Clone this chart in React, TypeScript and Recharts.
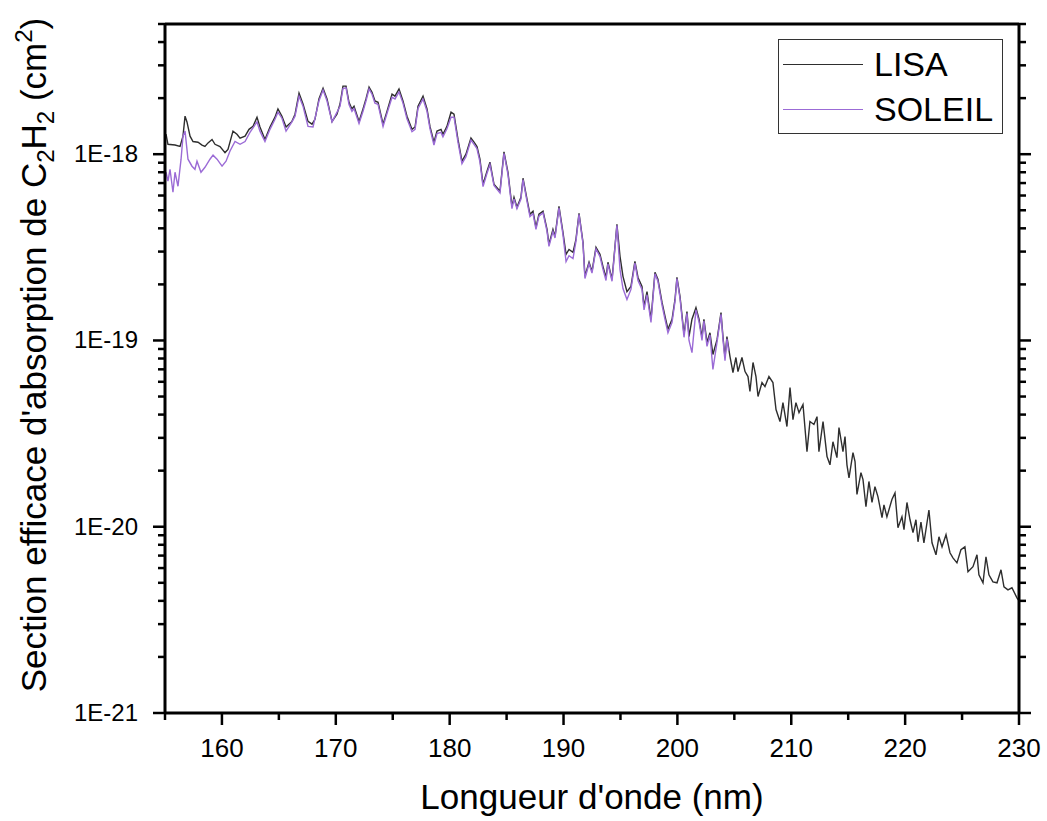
import { LineChart, Line, XAxis, YAxis, Legend } from 'recharts';

const FONT = '"Liberation Sans", Arial, Helvetica, sans-serif';

// wavelength ticks (nm)
const xMajor = [160, 170, 180, 190, 200, 210, 220, 230];
const xTicks = [155, 160, 165, 170, 175, 180, 185, 190, 195, 200, 205, 210, 215, 220, 225, 230];

// cross-section ticks (log)
const yMajor = [1e-21, 1e-20, 1e-19, 1e-18];
const yMajorLabels = ['1E-21', '1E-20', '1E-19', '1E-18'];
const yTicks = [
  1e-21, 2e-21, 3e-21, 4e-21, 5e-21, 6e-21, 7e-21, 8e-21, 9e-21,
  1e-20, 2e-20, 3e-20, 4e-20, 5e-20, 6e-20, 7e-20, 8e-20, 9e-20,
  1e-19, 2e-19, 3e-19, 4e-19, 5e-19, 6e-19, 7e-19, 8e-19, 9e-19,
  1e-18, 2e-18, 3e-18, 4e-18, 5e-18,
];

// LISA spectrum
const lisaNm = [
  155.09, 155.26, 155.88, 156.32, 156.58, 156.76, 156.93, 157.2, 157.46, 157.9,
  158.25, 158.51, 158.78, 159.13, 159.39, 159.83, 160.27, 160.53, 160.97, 161.32,
  161.59, 162.03, 162.38, 162.73, 163.08, 163.34, 163.78, 164.22, 164.66, 164.92,
  165.27, 165.63, 166.15, 166.42, 166.77, 167.12, 167.56, 167.91, 168.17, 168.52,
  168.88, 169.23, 169.67, 170.1, 170.37, 170.63, 170.9, 171.16, 171.42, 171.6,
  172.04, 172.39, 172.65, 172.92, 173.18, 173.44, 173.71, 174.15, 174.5, 174.94,
  175.2, 175.55, 175.9, 176.25, 176.69, 176.96, 177.22, 177.66, 178.01, 178.27,
  178.62, 178.89, 179.24, 179.41, 179.76, 180.12, 180.38, 180.73, 181.08, 181.43,
  181.87, 182.14, 182.4, 182.66, 182.93, 183.28, 183.54, 183.89, 184.42, 184.77,
  185.12, 185.47, 185.65, 185.91, 186.26, 186.44, 186.79, 187.05, 187.32, 187.58,
  187.84, 188.2, 188.55, 188.72, 189.07, 189.25, 189.6, 189.95, 190.22, 190.48,
  190.83, 191.09, 191.36, 191.71, 191.88, 192.24, 192.5, 192.85, 193.2, 193.46,
  193.73, 193.9, 194.26, 194.69, 194.96, 195.22, 195.57, 195.92, 196.27, 196.54,
  196.89, 197.07, 197.33, 197.68, 198.03, 198.29, 198.65, 198.91, 199.17, 199.53,
  199.79, 199.96, 200.23, 200.58, 200.84, 201.02, 201.28, 201.63, 201.9, 202.16,
  202.33, 202.6, 202.86, 203.12, 203.48, 203.83, 204.0, 204.18, 204.35, 204.62,
  204.88, 205.14, 205.32, 205.67, 205.94, 206.2, 206.37, 206.64, 206.9, 207.08,
  207.43, 207.69, 208.04, 208.39, 208.66, 209.01, 209.27, 209.62, 209.89, 210.15,
  210.41, 210.68, 211.03, 211.38, 211.64, 211.99, 212.26, 212.43, 212.79, 213.14,
  213.4, 213.66, 214.01, 214.19, 214.54, 214.72, 214.89, 215.07, 215.42, 215.6,
  215.77, 216.12, 216.3, 216.56, 216.82, 217.09, 217.35, 217.61, 217.97, 218.14,
  218.4, 218.84, 219.11, 219.37, 219.72, 219.9, 220.16, 220.43, 220.69, 220.95,
  221.13, 221.39, 221.65, 222.09, 222.36, 222.71, 222.97, 223.24, 223.59, 223.94,
  224.2, 224.55, 224.9, 225.25, 225.52, 225.96, 226.31, 226.48, 226.84, 227.1,
  227.36, 227.71, 228.07, 228.42, 228.68, 229.03, 229.38, 229.82, 230.0,
];
const lisaVal = [
  1.28e-18, 1.13e-18, 1.12e-18, 1.1e-18, 1.25e-18, 1.6e-18, 1.49e-18, 1.25e-18, 1.17e-18, 1.16e-18,
  1.12e-18, 1.1e-18, 1.15e-18, 1.2e-18, 1.13e-18, 1.1e-18, 1.02e-18, 1.06e-18, 1.33e-18, 1.28e-18,
  1.22e-18, 1.25e-18, 1.36e-18, 1.41e-18, 1.58e-18, 1.4e-18, 1.2e-18, 1.4e-18, 1.58e-18, 1.75e-18,
  1.6e-18, 1.4e-18, 1.5e-18, 1.64e-18, 2.13e-18, 1.86e-18, 1.5e-18, 1.45e-18, 1.54e-18, 1.98e-18,
  2.26e-18, 1.98e-18, 1.5e-18, 1.64e-18, 1.86e-18, 2.32e-18, 2.32e-18, 1.9e-18, 1.75e-18, 1.81e-18,
  1.5e-18, 1.75e-18, 1.98e-18, 2.29e-18, 2.15e-18, 1.93e-18, 1.9e-18, 1.45e-18, 1.7e-18, 2.1e-18,
  2.05e-18, 2.24e-18, 1.93e-18, 1.6e-18, 1.36e-18, 1.4e-18, 1.81e-18, 2.05e-18, 1.75e-18, 1.41e-18,
  1.16e-18, 1.33e-18, 1.36e-18, 1.28e-18, 1.41e-18, 1.68e-18, 1.64e-18, 1.2e-18, 9.17e-19, 1.0e-18,
  1.22e-18, 1.16e-18, 1.1e-18, 9.4e-19, 6.9e-19, 8.1e-19, 9.06e-19, 6.9e-19, 6.33e-19, 1.03e-18,
  8.0e-19, 5.25e-19, 5.87e-19, 5.19e-19, 5.87e-19, 7.43e-19, 5.73e-19, 4.76e-19, 4.94e-19, 4.05e-19,
  4.76e-19, 4.94e-19, 3.95e-19, 3.28e-19, 3.95e-19, 3.62e-19, 5.25e-19, 3.81e-19, 2.9e-19, 3.08e-19,
  2.97e-19, 3.49e-19, 4.82e-19, 3.36e-19, 2.21e-19, 2.63e-19, 2.35e-19, 3.16e-19, 2.9e-19, 2.5e-19,
  2.18e-19, 2.63e-19, 2.13e-19, 4.2e-19, 2.83e-19, 2.21e-19, 1.83e-19, 1.95e-19, 2.66e-19, 2.18e-19,
  1.95e-19, 1.52e-19, 1.83e-19, 1.3e-19, 2.32e-19, 2.13e-19, 1.6e-19, 1.35e-19, 1.15e-19, 1.3e-19,
  1.66e-19, 2.18e-19, 1.72e-19, 1.08e-19, 1.43e-19, 1.05e-19, 1.3e-19, 1.5e-19, 1.3e-19, 1.04e-19,
  1.3e-19, 9.76e-20, 1.1e-19, 8.41e-20, 1.01e-19, 1.41e-19, 1.05e-19, 8.1e-20, 1.05e-19, 8.2e-20,
  6.73e-20, 8.1e-20, 6.81e-20, 8.1e-20, 6.81e-20, 6.4e-20, 5.32e-20, 7.62e-20, 6.4e-20, 5.0e-20,
  5.94e-20, 5.66e-20, 6.4e-20, 5.94e-20, 4.26e-20, 3.67e-20, 4.64e-20, 3.45e-20, 5.59e-20, 3.76e-20,
  4.64e-20, 4.1e-20, 4.53e-20, 2.53e-20, 3.67e-20, 3.54e-20, 3.9e-20, 2.53e-20, 3.67e-20, 2.38e-20,
  2.15e-20, 2.86e-20, 2.35e-20, 3.41e-20, 2.53e-20, 3.05e-20, 2.15e-20, 1.83e-20, 2.5e-20, 2.24e-20,
  1.49e-20, 1.95e-20, 1.79e-20, 1.28e-20, 1.75e-20, 1.35e-20, 1.64e-20, 1.45e-20, 1.12e-20, 1.31e-20,
  1.13e-20, 1.4e-20, 1.52e-20, 9.88e-21, 1.13e-20, 9.64e-21, 1.35e-20, 1.09e-20, 9.29e-21, 1.09e-20,
  8.3e-21, 1.06e-20, 8.2e-21, 1.23e-20, 8.2e-21, 7.07e-21, 8.83e-21, 7.8e-21, 9.06e-21, 7.25e-21,
  6.81e-21, 6.4e-21, 7.52e-21, 7.8e-21, 5.73e-21, 6.1e-21, 7.07e-21, 5.52e-21, 5.0e-21, 6.9e-21,
  5.52e-21, 5.06e-21, 5.0e-21, 5.87e-21, 4.76e-21, 4.58e-21, 4.7e-21, 4.15e-21, 4.0e-21,
];

// SOLEIL spectrum
const soleilNm = [
  155.09, 155.26, 155.44, 155.7, 155.88, 156.14, 156.41, 156.58, 156.76, 157.02,
  157.37, 157.63, 157.81, 158.16, 158.51, 158.95, 159.22, 159.57, 160.01, 160.36,
  160.71, 161.15, 161.59, 162.03, 162.46, 163.08, 163.34, 163.78, 164.22, 164.66,
  164.92, 165.27, 165.63, 166.15, 166.42, 166.77, 167.12, 167.56, 168.0, 168.52,
  168.88, 169.23, 169.67, 170.37, 170.63, 170.9, 171.16, 171.42, 171.6, 172.04,
  172.39, 172.65, 172.92, 173.18, 173.44, 173.71, 174.15, 174.5, 174.94, 175.2,
  175.55, 175.9, 176.25, 176.69, 176.96, 177.22, 177.66, 178.01, 178.27, 178.62,
  178.89, 179.24, 179.41, 179.76, 180.12, 180.38, 180.73, 181.08, 181.43, 181.87,
  182.14, 182.4, 182.66, 182.93, 183.28, 183.54, 183.89, 184.42, 184.77, 185.12,
  185.47, 185.65, 185.91, 186.26, 186.44, 186.79, 187.05, 187.32, 187.58, 187.84,
  188.2, 188.55, 188.72, 189.07, 189.25, 189.6, 189.95, 190.22, 190.48, 190.83,
  191.09, 191.36, 191.71, 191.88, 192.24, 192.5, 192.85, 193.2, 193.46, 193.73,
  193.9, 194.26, 194.69, 194.96, 195.22, 195.57, 195.92, 196.27, 196.54, 196.89,
  197.07, 197.33, 197.68, 198.03, 198.29, 198.65, 198.91, 199.17, 199.53, 199.79,
  199.96, 200.23, 200.58, 200.84, 201.02, 201.28, 201.63, 201.9, 202.16, 202.33,
  202.6, 202.86, 203.12, 203.48, 203.83, 204.0, 204.18, 204.35, 204.5,
];
const soleilVal = [
  8.0e-19, 7.16e-19, 8.3e-19, 6.25e-19, 8.0e-19, 6.73e-19, 9.4e-19, 1.25e-18, 1.33e-18, 9.4e-19,
  8.62e-19, 8.3e-19, 9.17e-19, 8.0e-19, 8.51e-19, 9.4e-19, 9.88e-19, 9.4e-19, 8.62e-19, 9.17e-19,
  1.04e-18, 1.17e-18, 1.13e-18, 1.17e-18, 1.31e-18, 1.49e-18, 1.33e-18, 1.17e-18, 1.36e-18, 1.54e-18,
  1.68e-18, 1.56e-18, 1.33e-18, 1.49e-18, 1.6e-18, 2.05e-18, 1.81e-18, 1.41e-18, 1.4e-18, 1.93e-18,
  2.21e-18, 1.93e-18, 1.49e-18, 1.81e-18, 2.25e-18, 2.27e-18, 1.85e-18, 1.7e-18, 1.76e-18, 1.46e-18,
  1.7e-18, 1.93e-18, 2.24e-18, 2.1e-18, 1.88e-18, 1.85e-18, 1.41e-18, 1.66e-18, 2.02e-18, 1.98e-18,
  2.16e-18, 1.88e-18, 1.55e-18, 1.32e-18, 1.36e-18, 1.76e-18, 1.98e-18, 1.7e-18, 1.37e-18, 1.12e-18,
  1.29e-18, 1.31e-18, 1.24e-18, 1.37e-18, 1.58e-18, 1.58e-18, 1.16e-18, 8.9e-19, 9.7e-19, 1.19e-18,
  1.13e-18, 1.07e-18, 9.1e-19, 6.7e-19, 7.9e-19, 8.8e-19, 6.8e-19, 6.2e-19, 1.01e-18, 7.8e-19,
  5.1e-19, 5.75e-19, 5.1e-19, 5.75e-19, 7.3e-19, 5.6e-19, 4.62e-19, 4.8e-19, 3.95e-19, 4.65e-19,
  4.85e-19, 3.85e-19, 3.2e-19, 3.85e-19, 3.55e-19, 5.15e-19, 3.7e-19, 2.65e-19, 2.85e-19, 2.75e-19,
  3.4e-19, 4.75e-19, 3.3e-19, 2.15e-19, 2.58e-19, 2.3e-19, 3.1e-19, 2.82e-19, 2.42e-19, 2.1e-19,
  2.58e-19, 2.08e-19, 4.15e-19, 2.4e-19, 1.9e-19, 1.66e-19, 1.88e-19, 2.6e-19, 2.1e-19, 1.88e-19,
  1.46e-19, 1.76e-19, 1.25e-19, 2.28e-19, 2.08e-19, 1.55e-19, 1.3e-19, 1.1e-19, 1.25e-19, 1.62e-19,
  2.15e-19, 1.68e-19, 1.04e-19, 1.4e-19, 1.0e-19, 8.6e-20, 1.46e-19, 1.26e-19, 1.0e-19, 1.27e-19,
  9.3e-20, 1.07e-19, 7.0e-20, 9.8e-20, 1.38e-19, 1.02e-19, 7.8e-20, 1.02e-19, 8.8e-20,
];

const lisaData = lisaNm.map((nm, i) => ({ nm, v: lisaVal[i] }));
const soleilData = soleilNm.map((nm, i) => ({ nm, v: soleilVal[i] }));

const AXIS = { stroke: '#000', strokeWidth: 3 };

const BottomTick = (props: any) => {
  const { x, y, payload } = props;
  const major = xMajor.includes(payload.value);
  return (
    <g>
      <line x1={x} x2={x} y1={y} y2={y + (major ? 12 : 7)} stroke="#000" strokeWidth={2.5} />
      {major && (
        <text x={x} y={y + 44} textAnchor="middle" fontSize={26} fontFamily={FONT} fill="#000">
          {payload.value}
        </text>
      )}
    </g>
  );
};

const TopTick = (props: any) => {
  const { x, y, payload } = props;
  const major = xMajor.includes(payload.value);
  return <line x1={x} x2={x} y1={y} y2={y - (major ? 12 : 7)} stroke="#000" strokeWidth={2.5} />;
};

const LeftTick = (props: any) => {
  const { x, y, payload } = props;
  const idx = yMajor.indexOf(payload.value);
  return (
    <g>
      <line x1={x} x2={x - (idx >= 0 ? 12 : 7)} y1={y} y2={y} stroke="#000" strokeWidth={2.5} />
      {idx >= 0 && (
        <text x={x - 27} y={y + 8} textAnchor="end" fontSize={24} fontFamily={FONT} fill="#000">
          {yMajorLabels[idx]}
        </text>
      )}
    </g>
  );
};

const RightTick = (props: any) => {
  const { x, y, payload } = props;
  const major = yMajor.includes(payload.value);
  return <line x1={x} x2={x + (major ? 12 : 7)} y1={y} y2={y} stroke="#000" strokeWidth={2.5} />;
};

const XTitle = () => (
  <text x={592} y={809} textAnchor="middle" fontSize={35} fontFamily={FONT} fill="#000">
    Longueur d'onde (nm)
  </text>
);

const YTitle = () => (
  <text
    transform="translate(46,355) rotate(-90)"
    textAnchor="middle"
    fontSize={35}
    fontFamily={FONT}
    fill="#000"
  >
    {"Section efficace d'absorption de C"}
    <tspan fontSize={24} dy={8}>2</tspan>
    <tspan dy={-8}>H</tspan>
    <tspan fontSize={24} dy={8}>2</tspan>
    <tspan dy={-8}>{' (cm'}</tspan>
    <tspan fontSize={24} dy={-14}>2</tspan>
    <tspan dy={14}>)</tspan>
  </text>
);

const LegendBox = (props: any) => {
  const { payload = [] } = props;
  return (
    <div
      style={{
        width: 225,
        height: 95,
        boxSizing: 'border-box',
        border: '1.5px solid #333',
        background: '#fff',
        paddingTop: 2,
        fontFamily: FONT,
      }}
    >
      {payload.map((item: any) => (
        <div key={item.value} style={{ display: 'flex', alignItems: 'center', height: 45 }}>
          <div style={{ width: 80, marginLeft: 4, borderTop: `1.5px solid ${item.color}` }} />
          <span style={{ marginLeft: 11, fontSize: 34, color: '#000', lineHeight: '45px' }}>{item.value}</span>
        </div>
      ))}
    </div>
  );
};

export default function App() {
  return (
    <div style={{ position: 'absolute', left: 0, top: 0, background: '#fff' }}>
      <LineChart width={1047} height={821} margin={{ top: 0, right: 0, bottom: 0, left: 0 }}>
        <XAxis
          dataKey="nm"
          type="number"
          domain={[155, 230]}
          ticks={xTicks}
          interval={0}
          allowDataOverflow
          height={108}
          axisLine={AXIS}
          tickLine={false}
          tickSize={0}
          tickMargin={0}
          tick={<BottomTick />}
          label={XTitle}
        />
        <XAxis
          xAxisId="top"
          orientation="top"
          type="number"
          domain={[155, 230]}
          ticks={xTicks}
          interval={0}
          allowDataOverflow
          height={24}
          axisLine={AXIS}
          tickLine={false}
          tickSize={0}
          tickMargin={0}
          tick={<TopTick />}
        />
        <YAxis
          scale="log"
          type="number"
          domain={[1e-21, 5e-18]}
          ticks={yTicks}
          interval={0}
          allowDataOverflow
          width={165}
          axisLine={AXIS}
          tickLine={false}
          tickSize={0}
          tickMargin={0}
          tick={<LeftTick />}
          label={YTitle}
        />
        <YAxis
          yAxisId="right"
          orientation="right"
          scale="log"
          type="number"
          domain={[1e-21, 5e-18]}
          ticks={yTicks}
          interval={0}
          allowDataOverflow
          width={28}
          axisLine={AXIS}
          tickLine={false}
          tickSize={0}
          tickMargin={0}
          tick={<RightTick />}
        />
        <Legend
          layout="vertical"
          align="center"
          verticalAlign="middle"
          content={<LegendBox />}
          wrapperStyle={{ left: 778, top: 39, width: 225, height: 95 }}
        />
        <Line
          data={lisaData}
          dataKey="v"
          name="LISA"
          type="linear"
          stroke="#2e2e2e"
          strokeWidth={1.4}
          dot={false}
          activeDot={false}
          isAnimationActive={false}
        />
        <Line
          data={soleilData}
          dataKey="v"
          name="SOLEIL"
          type="linear"
          stroke="#9b6bd6"
          strokeWidth={1.4}
          dot={false}
          activeDot={false}
          isAnimationActive={false}
        />
      </LineChart>
    </div>
  );
}
